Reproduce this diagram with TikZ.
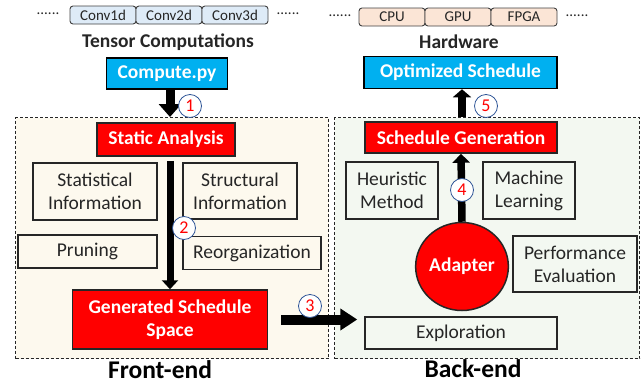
\documentclass[tikz,border=0pt]{standalone}
\usepackage{fontspec}
\setmainfont{Carlito}
\usetikzlibrary{arrows.meta,shapes.geometric,calc}
\definecolor{redbox}{HTML}{FF0000}
\definecolor{cyanbox}{HTML}{00B0F0}
\definecolor{convfill}{HTML}{DEEBF7}
\definecolor{hwfill}{HTML}{FBE5D6}
\definecolor{frontfill}{HTML}{FDF9EE}
\definecolor{backfill}{HTML}{F3F8F1}
\definecolor{txt}{HTML}{262626}
\definecolor{numcirc}{HTML}{2F5597}
\tikzset{
  small/.style={font=\fontsize{15}{17}\selectfont},
  mid/.style={font=\fontsize{19.5}{23}\selectfont},
  midb/.style={font=\fontsize{19.5}{23}\selectfont\bfseries},
  tag/.style={rectangle, rounded corners=3pt, draw=black!75, line width=0.9pt, small, text=txt, minimum width=66pt, minimum height=18pt, inner sep=0pt},
  convbox/.style={tag, fill=convfill},
  hwbox/.style={tag, fill=hwfill},
  dots/.style={small, text=txt, inner sep=0pt},
  title/.style={midb, text=txt, inner sep=0pt},
  cyanb/.style={rectangle, draw=black, line width=1.5pt, fill=cyanbox, text=white, midb, inner sep=0pt},
  redb/.style={rectangle, draw=black!85, line width=1.5pt, fill=redbox, text=white, midb, inner sep=0pt, align=center},
  inbox/.style={rectangle, draw=black!85, line width=1.3pt, mid, text=txt, inner sep=0pt, align=center},
  region/.style={draw=black!85, line width=1.1pt, dash pattern=on 3pt off 2pt},
  numc/.style={circle, draw=numcirc, line width=0.8pt, fill=white, minimum size=23pt, inner sep=0pt, text=red, font=\fontsize{18}{20}\selectfont},
  bigtitle/.style={font=\fontsize{25.5}{30}\selectfont\bfseries, text=black, inner sep=0pt, anchor=base},
}
\begin{document}
\begin{tikzpicture}[x=1pt,y=-1pt]
\useasboundingbox (0,0) rectangle (642,383);
% regions
\node[region, fill=frontfill, minimum width=313pt, minimum height=241pt, inner sep=0pt, anchor=north west] (front) at (15,117) {};
\node[region, fill=backfill, minimum width=305pt, minimum height=241pt, inner sep=0pt, anchor=north west] (back) at (334,117) {};
% top tags
\node[dots] (dl1) at (48,14) {......};
\node[convbox] (c1d) at (103,15) {Conv1d};
\node[convbox] (c2d) at (169,15) {Conv2d};
\node[convbox] (c3d) at (235,15) {Conv3d};
\node[dots] (dl2) at (288,14) {......};
\node[dots] (dr1) at (340,16) {......};
\node[hwbox] (cpu) at (392,17) {CPU};
\node[hwbox] (gpu) at (458,17) {GPU};
\node[hwbox] (fpga) at (524,17) {FPGA};
\node[dots] (dr2) at (577,16) {......};
\node[title] (tensor) at (168,42) {Tensor Computations};
\node[title] (hw) at (459,42) {Hardware};
\node[cyanb, minimum width=121pt, minimum height=31pt] (compute) at (167,73.5) {Compute.py};
\node[cyanb, minimum width=193pt, minimum height=32pt] (opt) at (460.5,72.5) {Optimized Schedule};
% front-end
\node[redb, minimum width=138pt, minimum height=33pt] (static) at (166,139.5) {Static Analysis};
\node[inbox, fill=frontfill, minimum width=124pt, minimum height=57pt] (stat) at (95,191.5) {Statistical\\Information};
\node[inbox, fill=frontfill, minimum width=114pt, minimum height=56pt] (struct) at (240,191) {Structural\\Information};
\node[inbox, fill=frontfill, minimum width=139pt, minimum height=33pt] (prune) at (87.5,251.5) {Pruning};
\node[inbox, fill=frontfill, minimum width=138pt, minimum height=33pt] (reorg) at (252,253) {Reorganization};
\node[redb, minimum width=195pt, minimum height=59pt] (gen) at (170,319.5) {Generated Schedule\\Space};
% back-end
\node[redb, minimum width=192pt, minimum height=31pt] (sgen) at (461,137.5) {Schedule Generation};
\node[inbox, fill=backfill, minimum width=92pt, minimum height=57pt] (heur) at (392,190.5) {Heuristic\\Method};
\node[inbox, fill=backfill, minimum width=92pt, minimum height=57pt] (ml) at (529,190.5) {Machine\\Learning};
\node[ellipse, draw=black!85, line width=1.5pt, fill=redbox, text=white, midb, inner sep=0pt, minimum width=88pt, minimum height=88pt] (adapter) at (462,266.5) {Adapter};
\node[inbox, fill=backfill, minimum width=124pt, minimum height=56pt] (perf) at (575,264) {Performance\\Evaluation};
\node[inbox, fill=backfill, minimum width=192pt, minimum height=32pt] (explor) at (461,333) {Exploration};
% arrows
\draw[line width=9pt, -{Triangle[width=22pt,length=13pt]}] ($(compute.south)+(3,0)$) -- ($(compute.south |- front.north)+(3,0)$);
\draw[line width=7pt, -{Triangle[width=16pt,length=9pt]}] ($(static.south)+(4,4)$) -- (gen.north);
\coordinate (a3end) at ($(gen.east)+(89,0)$);
\draw[line width=10pt, -{Triangle[width=21pt,length=17pt]}] ($(gen.east)+(13,0)$) -- (a3end);
\draw[line width=7.5pt, -{Triangle[width=17pt,length=9pt]}] (adapter.north) -- (sgen.south);
\draw[line width=8pt, -{Triangle[width=18pt,length=8pt]}] ($(opt.south |- back.north)+(1.5,0)$) -- ($(opt.south)+(1.5,0)$);
% numbers
\node[numc] (n1) at (190,106) {1};
\node[numc] (n2) at (184,228) {2};
\node[numc] (n3) at (310,306) {3};
\node[numc] (n4) at (462,190) {4};
\node[numc] (n5) at (486,106) {5};
% labels
\node[bigtitle] (fe) at (160,378) {Front-end};
\node[bigtitle] (be) at (473,377) {Back-end};
\end{tikzpicture}
\end{document}
